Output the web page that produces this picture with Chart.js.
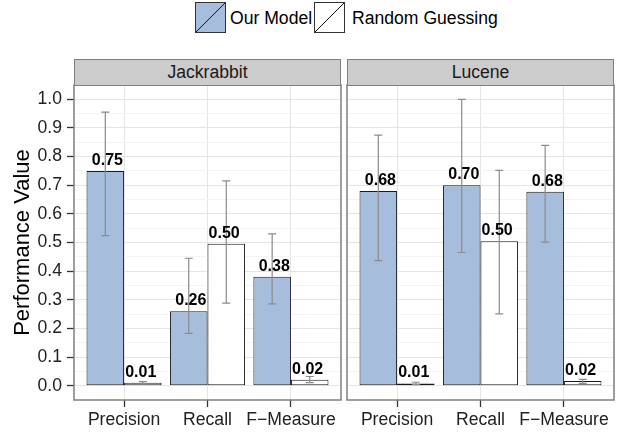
<!DOCTYPE html>
<html>
<head>
<meta charset="utf-8">
<script src="https://cdn.jsdelivr.net/npm/chart.js@4/dist/chart.umd.min.js"></script>
<style>
  body { margin: 0; background: #fff; font-family: "Liberation Sans", Arial, sans-serif; }
  #wrap { position: relative; width: 618px; height: 434px; overflow: hidden; }
  .sw { position: absolute; top: 2px; width: 31px; height: 31px; box-sizing: border-box; border: 1px solid #333; }
  .lt { position: absolute; top: 2px; height: 31px; line-height: 33px; font-size: 17.6px; color: #000; white-space: nowrap; }
  .strip { position: absolute; top: 59px; width: 267px; height: 27px; box-sizing: border-box; border: 1.5px solid #7f7f7f;
           background: #ccc; text-align: center; line-height: 25px; font-size: 17.6px; color: #1a1a1a; z-index: 2; }
  canvas { position: absolute; top: 80px; }
</style>
</head>
<body>
<div id="wrap">
  <div class="sw" style="left:195px; background: linear-gradient(to bottom right, #a6bddb calc(50% - 0.7px), #111 50%, #a6bddb calc(50% + 0.7px));"></div>
  <div class="lt" style="left:230px;">Our Model</div>
  <div class="sw" style="left:314px; background: linear-gradient(to bottom right, #fff calc(50% - 0.7px), #111 50%, #fff calc(50% + 0.7px));"></div>
  <div class="lt" style="left:352px;">Random Guessing</div>

  <div class="strip" style="left:74px;">Jackrabbit</div>
  <div class="strip" style="left:347px;">Lucene</div>

  <canvas id="left" width="345" height="354" style="left:0px;"></canvas>
  <canvas id="right" width="275" height="354" style="left:343px;"></canvas>
</div>

<script>
const metrics = ['Precision', 'Recall', 'F\u2212Measure'];
const yTicks = [0.0, 0.1, 0.2, 0.3, 0.4, 0.5, 0.6, 0.7, 0.8, 0.9, 1.0];
const yTickLabels = ['0.0', '0.1', '0.2', '0.3', '0.4', '0.5', '0.6', '0.7', '0.8', '0.9', '1.0'];

// Jackrabbit
const jackModel = [0.75, 0.26, 0.38];
const jackModelLow = [0.524, 0.183, 0.286];
const jackModelHigh = [0.955, 0.445, 0.530];
const jackRandom = [0.010, 0.496, 0.021];
const jackRandomLow = [0.006, 0.288, 0.011];
const jackRandomHigh = [0.014, 0.715, 0.032];

// Lucene
const luceneModel = [0.68, 0.70, 0.677];
const luceneModelLow = [0.437, 0.465, 0.501];
const luceneModelHigh = [0.875, 1.000, 0.839];
const luceneRandom = [0.008, 0.504, 0.016];
const luceneRandomLow = [0.004, 0.251, 0.008];
const luceneRandomHigh = [0.012, 0.752, 0.022];

const FONT = '"Liberation Sans", Arial, sans-serif';
Chart.defaults.font.family = FONT;
Chart.defaults.color = '#222';

const isMajor = v => yTicks.some(t => Math.abs(t - v) < 1e-9);

// minor grid in between the labelled ticks
const yAllTicks = [];
yTicks.forEach((t, i) => {
  yAllTicks.push(t);
  if (i < yTicks.length - 1) yAllTicks.push((t + yTicks[i + 1]) / 2);
});

// no label overflow padding, the panel box is placed by hand
function noPad(s) {
  s.paddingTop = 0; s.paddingBottom = 0; s.paddingLeft = 0; s.paddingRight = 0;
}

const panelPlugin = {
  id: 'panel',
  afterDatasetsDraw(chart) {
    const { ctx, scales: { x, y } } = chart;
    ctx.save();
    // error bars
    ctx.strokeStyle = '#8c8c8c';
    ctx.lineWidth = 1.2;
    chart.data.datasets.forEach((ds, di) => {
      chart.getDatasetMeta(di).data.forEach((bar, i) => {
        const lo = y.getPixelForValue(ds.errLow[i]);
        const hi = y.getPixelForValue(ds.errHigh[i]);
        ctx.beginPath();
        ctx.moveTo(bar.x, lo); ctx.lineTo(bar.x, hi);
        ctx.moveTo(bar.x - 4, lo); ctx.lineTo(bar.x + 4, lo);
        ctx.moveTo(bar.x - 4, hi); ctx.lineTo(bar.x + 4, hi);
        ctx.stroke();
      });
    });
    // value labels
    ctx.fillStyle = '#000';
    ctx.font = 'bold 16px ' + FONT;
    ctx.textAlign = 'center';
    ctx.textBaseline = 'alphabetic';
    chart.data.datasets.forEach(ds => {
      ds.data.forEach(pt => {
        ctx.fillText(pt.y.toFixed(2), x.getPixelForValue(pt.x + ds.labelShift), y.getPixelForValue(pt.y) - 6);
      });
    });
    ctx.restore();
  },
  afterDraw(chart) {
    const { ctx, chartArea: a } = chart;
    ctx.save();
    ctx.strokeStyle = '#7f7f7f';
    ctx.lineWidth = 1.5;
    ctx.strokeRect(a.left, a.top, a.right - a.left, a.bottom - a.top);
    ctx.restore();
  }
};

function makePanel(id, model, modelLow, modelHigh, rand, randLow, randHigh, showY) {
  const ctx = document.getElementById(id).getContext('2d');
  return new Chart(ctx, {
    type: 'bar',
    data: {
      datasets: [{
        label: 'Our Model',
        data: model.map((v, i) => ({ x: i, y: v })),
        errLow: modelLow, errHigh: modelHigh, labelShift: -0.2,
        backgroundColor: '#a6bddb',
        borderColor: '#1a1a1a',
        borderWidth: 1,
        borderSkipped: false
      }, {
        label: 'Random Guessing',
        data: rand.map((v, i) => ({ x: i, y: v })),
        errLow: randLow, errHigh: randHigh, labelShift: 0.2,
        backgroundColor: '#ffffff',
        borderColor: '#1a1a1a',
        borderWidth: 1,
        borderSkipped: false
      }]
    },
    options: {
      responsive: false,
      animation: false,
      categoryPercentage: 0.9,
      barPercentage: 1.0,
      layout: { autoPadding: false, padding: { top: 5, right: 4, left: 0, bottom: 0 } },
      plugins: { legend: { display: false }, tooltip: { enabled: false } },
      scales: {
        x: {
          type: 'linear',
          offset: false,
          min: -0.6, max: 2.6,
          afterBuildTicks: s => { s.ticks = metrics.map((m, i) => ({ value: i })); },
          afterFit: s => { s.height = 34; noPad(s); },
          border: { display: false },
          grid: { offset: false, color: '#e5e5e5', tickColor: '#333', tickLength: 7, tickWidth: 1.3 },
          ticks: {
            autoSkip: false, maxRotation: 0, padding: 3,
            color: '#222', font: { size: 17.6 },
            callback: v => metrics[v]
          }
        },
        y: {
          min: -0.05, max: 1.05,
          afterBuildTicks: s => { s.ticks = yAllTicks.map(v => ({ value: v })); },
          afterFit: s => { s.width = showY ? 74 : 4; noPad(s); },
          border: { display: false },
          grid: {
            color: c => isMajor(c.tick.value) ? '#e5e5e5' : '#f4f4f4',
            tickColor: c => isMajor(c.tick.value) ? '#333' : 'rgba(0,0,0,0)',
            drawTicks: showY, tickLength: 7, tickWidth: 1.3
          },
          title: {
            display: showY, text: 'Performance Value', color: '#000',
            font: { size: 22 }, padding: { top: 10, bottom: 0 }
          },
          ticks: {
            display: showY, autoSkip: false, padding: 5,
            color: '#222', font: { size: 17.6 },
            callback: v => {
              const i = yTicks.findIndex(t => Math.abs(t - v) < 1e-9);
              return i >= 0 ? yTickLabels[i] : '';
            }
          }
        }
      }
    },
    plugins: [panelPlugin]
  });
}

makePanel('left', jackModel, jackModelLow, jackModelHigh, jackRandom, jackRandomLow, jackRandomHigh, true);
makePanel('right', luceneModel, luceneModelLow, luceneModelHigh, luceneRandom, luceneRandomLow, luceneRandomHigh, false);
</script>
</body>
</html>
